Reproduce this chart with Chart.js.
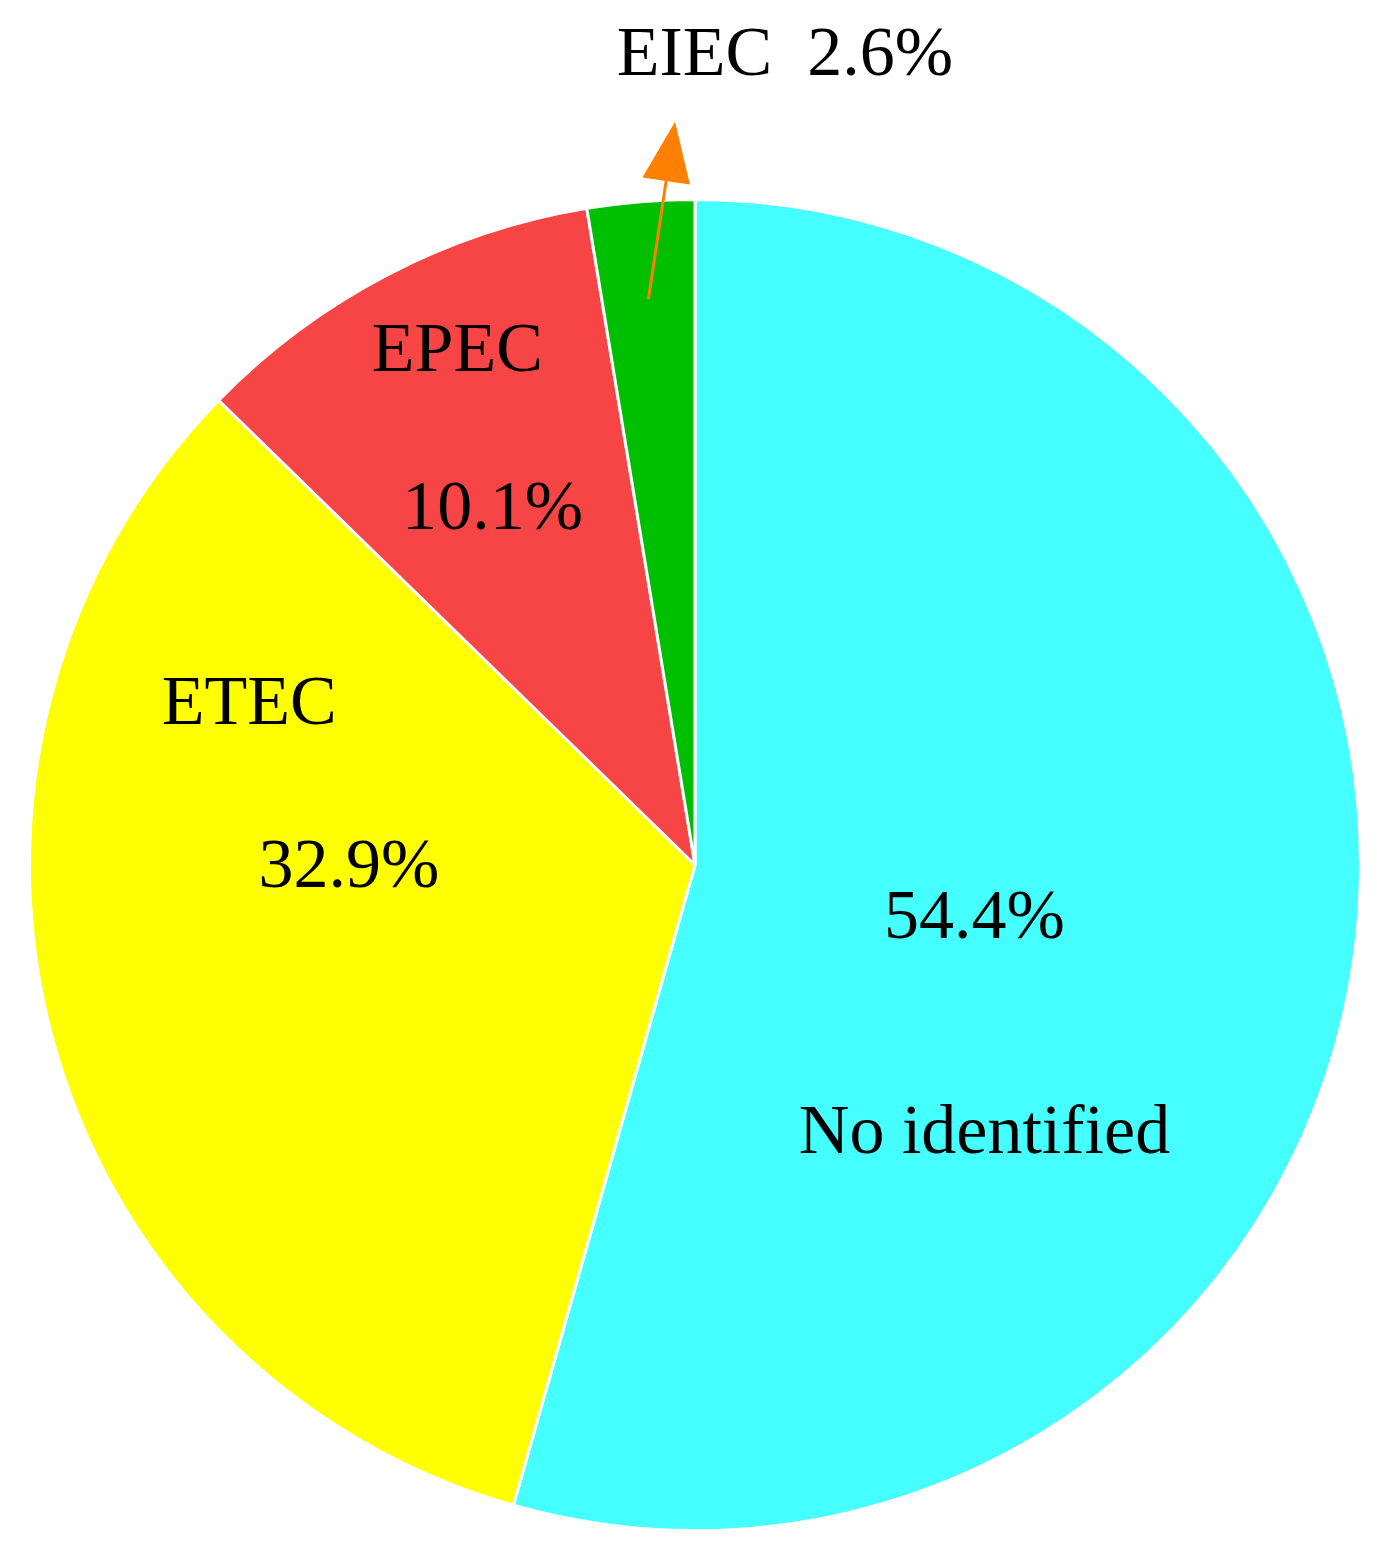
<!DOCTYPE html>
<html>
<head>
<meta charset="utf-8">
<script src="https://cdn.jsdelivr.net/npm/chart.js@4/dist/chart.umd.min.js"></script>
<style>
  body { margin: 0; background: #fff; }
  canvas { display: block; }
</style>
</head>
<body>
<canvas id="pie" width="1377" height="1548"></canvas>
<script>
// data
var categories = ["No identified", "ETEC", "EPEC", "EIEC"];
var shares = [54.4, 32.9, 10.1, 2.6];
var colours = ["#45FFFF", "#FFFF00", "#F74545", "#00BF00"];

// label placement as fractions of the radius from the centre
var labelSpots = [
  { name: [0.435, 0.405], value: [0.42, 0.082] },
  { name: [-0.67, -0.24], value: [-0.52, 0.005] },
  { name: [-0.357, -0.77], value: [-0.304, -0.532] },
  { inline: [0.135, -1.214], arrow: [[-0.07, -0.85], [-0.03, -1.117]] }
];

var labelPlugin = {
  id: "sliceLabels",
  afterDatasetsDraw: function(chart) {
    var ctx = chart.ctx;
    var arcs = chart.getDatasetMeta(0).data;
    ctx.save();
    ctx.fillStyle = "#000";
    ctx.font = "70px 'Liberation Serif', 'Times New Roman', serif";
    ctx.textAlign = "center";
    ctx.textBaseline = "middle";
    arcs.forEach(function(arc, i) {
      var p = arc.getProps(["x", "y", "outerRadius"], true);
      var r = p.outerRadius, s = labelSpots[i];
      var txt = shares[i].toFixed(1) + "%";
      if (s.inline) {
        ctx.fillText(categories[i] + "  " + txt, p.x + s.inline[0] * r, p.y + s.inline[1] * r);
        var a = [p.x + s.arrow[0][0] * r, p.y + s.arrow[0][1] * r];
        var b = [p.x + s.arrow[1][0] * r, p.y + s.arrow[1][1] * r];
        var ang = Math.atan2(b[1] - a[1], b[0] - a[0]);
        ctx.strokeStyle = "#FF8000";
        ctx.fillStyle = "#FF8000";
        ctx.lineWidth = 3;
        ctx.beginPath();
        ctx.moveTo(a[0], a[1]);
        ctx.lineTo(b[0] - 50 * Math.cos(ang), b[1] - 50 * Math.sin(ang));
        ctx.stroke();
        ctx.beginPath();
        ctx.moveTo(b[0], b[1]);
        ctx.lineTo(b[0] - 60 * Math.cos(ang) + 24 * Math.sin(ang), b[1] - 60 * Math.sin(ang) - 24 * Math.cos(ang));
        ctx.lineTo(b[0] - 60 * Math.cos(ang) - 24 * Math.sin(ang), b[1] - 60 * Math.sin(ang) + 24 * Math.cos(ang));
        ctx.closePath();
        ctx.fill();
        ctx.fillStyle = "#000";
      } else {
        ctx.fillText(categories[i], p.x + s.name[0] * r, p.y + s.name[1] * r);
        ctx.fillText(txt, p.x + s.value[0] * r, p.y + s.value[1] * r);
      }
    });
    ctx.restore();
  }
};

new Chart(document.getElementById("pie"), {
  type: "pie",
  data: {
    labels: categories,
    datasets: [{
      data: shares,
      backgroundColor: colours,
      borderColor: "#fff",
      borderWidth: 3
    }]
  },
  options: {
    responsive: false,
    animation: false,
    devicePixelRatio: 1,
    layout: { padding: { left: 28, right: 15, top: 198, bottom: 16 } },
    plugins: { legend: { display: false }, tooltip: { enabled: false } }
  },
  plugins: [labelPlugin]
});
</script>
</body>
</html>
